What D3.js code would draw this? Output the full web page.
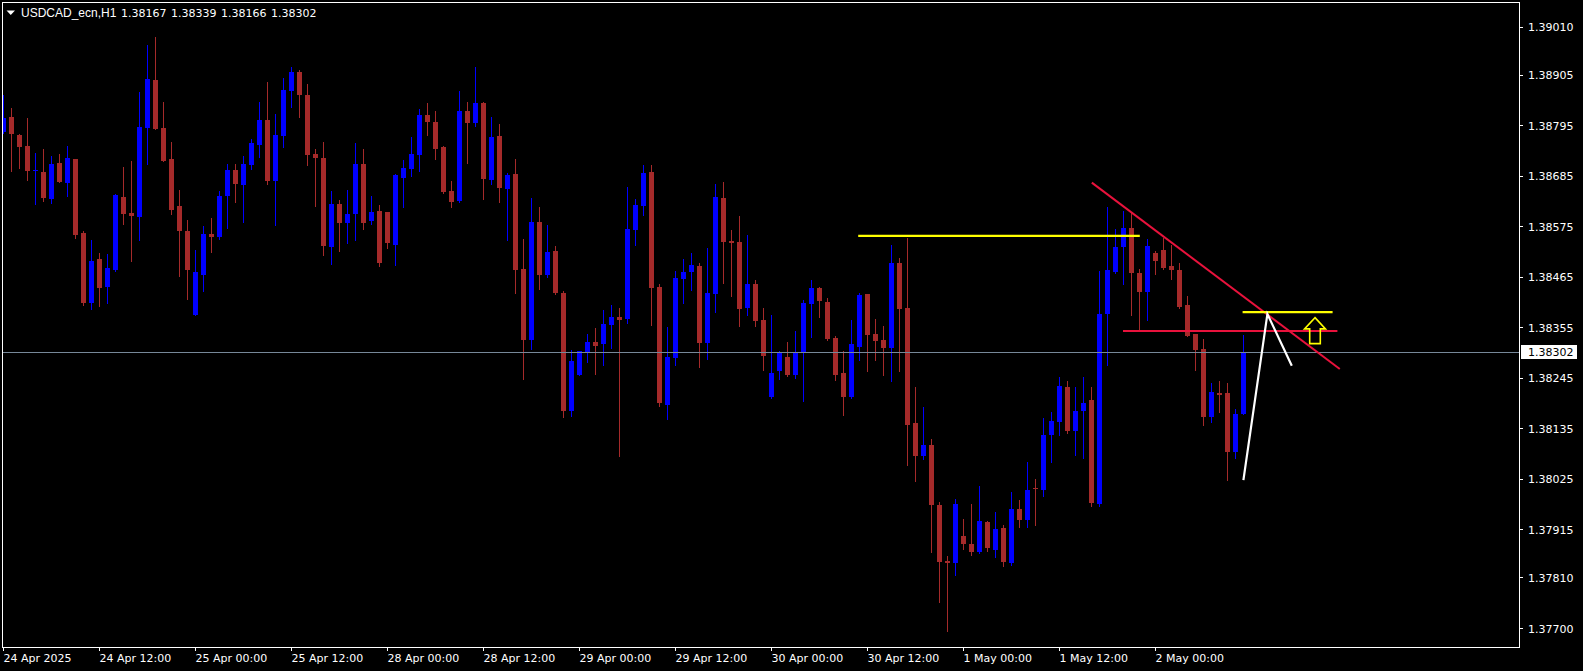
<!DOCTYPE html>
<html><head><meta charset="utf-8">
<script src="https://cdn.jsdelivr.net/npm/d3@7"></script>
<style>html,body{margin:0;padding:0;background:#000;overflow:hidden}</style>
</head><body><svg id="c" width="1583" height="671"></svg>
<script>
const symbol = "USDCAD_ecn,H1";
const headerValues = ["1.38167", "1.38339", "1.38166", "1.38302"];

const open = [1.38780,1.38813,1.38774,1.38750,1.38695,1.38693,1.38634,1.38713,1.38669,1.38721,
1.38560,1.38408,1.38504,1.38443,1.38480,1.38639,1.38604,1.38595,1.38789,1.38894,
1.38789,1.38721,1.38619,1.38565,1.38382,1.38469,1.38558,1.38552,1.38641,1.38698,
1.38665,1.38708,1.38752,1.38806,1.38674,1.38772,1.38870,1.38911,1.38861,1.38732,
1.38724,1.38530,1.38623,1.38582,1.38602,1.38711,1.38586,1.38608,1.38606,1.38534,
1.38680,1.38700,1.38730,1.38817,1.38802,1.38748,1.38652,1.38630,1.38826,1.38800,
1.38843,1.38676,1.38772,1.38656,1.38689,1.38482,1.38327,1.38584,1.38469,1.38521,
1.38430,1.38173,1.38251,1.38301,1.38323,1.38318,1.38360,1.38377,1.38373,1.38567,
1.38619,1.38693,1.38443,1.38186,1.38288,1.38460,1.38475,1.38488,1.38321,1.38427,
1.38637,1.38543,1.38541,1.38397,1.38449,1.38371,1.38203,1.38260,1.38290,1.38251,
1.38301,1.38406,1.38441,1.38410,1.38332,1.38255,1.38203,1.38312,1.38427,1.38340,
1.38327,1.38310,1.38495,1.38397,1.38146,1.38075,1.38099,1.37968,1.37846,1.37842,
1.37901,1.37883,1.37866,1.37931,1.37870,1.37918,1.37842,1.37959,1.37935,1.38005,
1.38001,1.38120,1.38149,1.38225,1.38129,1.38173,1.38197,1.37970,1.38384,1.38475,
1.38530,1.38571,1.38473,1.38432,1.38517,1.38523,1.38488,1.38480,1.38404,1.38340,
1.38308,1.38160,1.38212,1.38212,1.38084,1.38167];
const high = [1.38861,1.38832,1.38776,1.38811,1.38735,1.38743,1.38728,1.38732,1.38750,1.38722,
1.38565,1.38545,1.38517,1.38515,1.38645,1.38704,1.38717,1.38867,1.38970,1.38987,
1.38846,1.38758,1.38654,1.38589,1.38523,1.38576,1.38593,1.38652,1.38711,1.38711,
1.38728,1.38765,1.38846,1.38889,1.38819,1.38898,1.38922,1.38915,1.38885,1.38743,
1.38758,1.38652,1.38632,1.38654,1.38756,1.38743,1.38641,1.38621,1.38607,1.38688,
1.38719,1.38769,1.38830,1.38843,1.38826,1.38750,1.38674,1.38870,1.38846,1.38922,
1.38846,1.38813,1.38798,1.38691,1.38721,1.38547,1.38637,1.38617,1.38578,1.38532,
1.38434,1.38306,1.38304,1.38340,1.38353,1.38393,1.38404,1.38397,1.38660,1.38634,
1.38708,1.38708,1.38449,1.38356,1.38478,1.38504,1.38517,1.38495,1.38528,1.38667,
1.38671,1.38567,1.38597,1.38556,1.38458,1.38397,1.38382,1.38303,1.38323,1.38347,
1.38414,1.38458,1.38443,1.38419,1.38336,1.38303,1.38371,1.38430,1.38428,1.38373,
1.38358,1.38534,1.38506,1.38549,1.38225,1.38181,1.38112,1.37975,1.37857,1.37981,
1.37937,1.37970,1.38009,1.37933,1.37953,1.37924,1.37996,1.37979,1.38062,1.38025,
1.38157,1.38171,1.38247,1.38238,1.38225,1.38247,1.38225,1.38477,1.38617,1.38569,
1.38608,1.38604,1.38482,1.38547,1.38521,1.38549,1.38534,1.38495,1.38423,1.38341,
1.38329,1.38234,1.38238,1.38234,1.38177,1.38339];
const low = [1.38778,1.38695,1.38702,1.38676,1.38623,1.38630,1.38626,1.38671,1.38641,1.38549,
1.38404,1.38395,1.38401,1.38408,1.38478,1.38580,1.38499,1.38545,1.38711,1.38786,
1.38716,1.38602,1.38467,1.38417,1.38381,1.38434,1.38519,1.38547,1.38571,1.38628,
1.38584,1.38700,1.38726,1.38667,1.38578,1.38748,1.38835,1.38813,1.38708,1.38619,
1.38512,1.38493,1.38521,1.38539,1.38545,1.38569,1.38580,1.38488,1.38528,1.38491,
1.38617,1.38684,1.38695,1.38774,1.38721,1.38647,1.38617,1.38627,1.38713,1.38793,
1.38634,1.38667,1.38628,1.38545,1.38430,1.38242,1.38308,1.38438,1.38464,1.38427,
1.38160,1.38162,1.38250,1.38279,1.38253,1.38273,1.38310,1.38075,1.38364,1.38534,
1.38600,1.38360,1.38184,1.38155,1.38273,1.38408,1.38436,1.38268,1.38286,1.38388,
1.38451,1.38423,1.38358,1.38382,1.38358,1.38262,1.38202,1.38242,1.38249,1.38245,
1.38194,1.38334,1.38377,1.38327,1.38240,1.38164,1.38202,1.38284,1.38260,1.38284,
1.38251,1.38238,1.38260,1.38055,1.38020,1.38068,1.37866,1.37757,1.37694,1.37815,
1.37872,1.37859,1.37864,1.37868,1.37855,1.37835,1.37837,1.37920,1.37920,1.37924,
1.37988,1.38062,1.38120,1.38125,1.38077,1.38070,1.37966,1.37966,1.38273,1.38474,
1.38449,1.38382,1.38349,1.38371,1.38471,1.38482,1.38460,1.38398,1.38335,1.38262,
1.38142,1.38149,1.38171,1.38022,1.38070,1.38166];
const close = [1.38811,1.38776,1.38748,1.38695,1.38697,1.38637,1.38711,1.38672,1.38724,1.38556,
1.38408,1.38499,1.38441,1.38484,1.38643,1.38602,1.38597,1.38791,1.38896,1.38787,
1.38717,1.38610,1.38565,1.38480,1.38475,1.38558,1.38552,1.38641,1.38698,1.38667,
1.38711,1.38756,1.38806,1.38674,1.38774,1.38872,1.38911,1.38861,1.38730,1.38724,
1.38532,1.38623,1.38582,1.38602,1.38711,1.38582,1.38606,1.38495,1.38539,1.38687,
1.38702,1.38732,1.38817,1.38802,1.38743,1.38650,1.38628,1.38826,1.38800,1.38843,
1.38678,1.38769,1.38658,1.38687,1.38480,1.38327,1.38584,1.38469,1.38519,1.38430,
1.38173,1.38282,1.38303,1.38323,1.38314,1.38362,1.38377,1.38371,1.38569,1.38621,
1.38691,1.38441,1.38190,1.38290,1.38462,1.38475,1.38491,1.38321,1.38430,1.38639,
1.38541,1.38539,1.38395,1.38449,1.38369,1.38292,1.38255,1.38299,1.38251,1.38301,
1.38408,1.38441,1.38412,1.38329,1.38251,1.38203,1.38318,1.38425,1.38338,1.38325,
1.38310,1.38495,1.38395,1.38142,1.38075,1.38099,1.37968,1.37844,1.37842,1.37970,
1.37883,1.37866,1.37933,1.37874,1.37916,1.37844,1.37959,1.37935,1.38001,1.38003,
1.38120,1.38151,1.38227,1.38129,1.38173,1.38190,1.37972,1.38384,1.38480,1.38530,
1.38571,1.38473,1.38432,1.38532,1.38499,1.38484,1.38480,1.38399,1.38336,1.38306,
1.38160,1.38214,1.38208,1.38084,1.38166,1.38302];

const priceTicks = [1.39010,1.38905,1.38795,1.38685,1.38575,1.38465,1.38355,1.38245,1.38135,1.38025,1.37915,1.37810,1.37700];
const timeTickBars = [0,12,24,36,48,60,72,84,96,108,120,132,144];
const timeTickLabels = ["24 Apr 2025","24 Apr 12:00","25 Apr 00:00","25 Apr 12:00","28 Apr 00:00","28 Apr 12:00","29 Apr 00:00","29 Apr 12:00","30 Apr 00:00","30 Apr 12:00","1 May 00:00","1 May 12:00","2 May 00:00"];
const lastPrice = 1.38302;

// drawn objects, in (bar index, price) coordinates
const yellowLevel1 = [[106.9, 1.38554], [142.1, 1.38554]];
const redTrend = [[136.1, 1.38670], [167.1, 1.38264]];
const redLevel = [[140.0, 1.38347], [166.8, 1.38347]];
const yellowLevel2 = [[154.95, 1.38388], [166.2, 1.38388]];
const whitePath = [[155.05, 1.38022], [158.05, 1.38384], [161.1, 1.38271]];
const arrowTip = [164.0, 1.38376];

const svg = d3.select("#c");
const FONT = "Liberation Sans, Arial, sans-serif";
const NFONT = "DejaVu Sans, Verdana, sans-serif";
const L = 2, T = 2, R = 1519, B = 647;

const x = d3.scaleLinear().domain([0, 1]).range([3, 11]);
const y = d3.scaleLinear().domain([1.37700, 1.39010]).range([628, 26.5]);

svg.append("rect").attr("width", 1583).attr("height", 671).attr("fill", "#000");

svg.append("defs").append("clipPath").attr("id", "pc")
  .append("rect").attr("x", L + 1).attr("y", T + 1).attr("width", R - L - 1).attr("height", B - T - 1);

const plot = svg.append("g").attr("clip-path", "url(#pc)");

const bars = d3.range(open.length).map(i => ({i, o: open[i], h: high[i], l: low[i], c: close[i]}));
const col = d => d.c >= d.o ? "#0000ff" : "#a52a2a";

const g = plot.append("g").attr("shape-rendering", "crispEdges");
g.selectAll("rect.w").data(bars).join("rect").attr("class", "w")
  .attr("x", d => Math.round(x(d.i)))
  .attr("y", d => Math.round(y(d.h)))
  .attr("width", 1)
  .attr("height", d => Math.max(1, Math.round(y(d.l)) - Math.round(y(d.h)) + 1))
  .attr("fill", col);
g.selectAll("rect.b").data(bars).join("rect").attr("class", "b")
  .attr("x", d => Math.round(x(d.i)) - 2)
  .attr("y", d => Math.round(y(Math.max(d.o, d.c))))
  .attr("width", 5)
  .attr("height", d => Math.max(1, Math.round(y(Math.min(d.o, d.c))) - Math.round(y(Math.max(d.o, d.c)))))
  .attr("fill", col);

// bid line
plot.append("line").attr("x1", L).attr("x2", R)
  .attr("y1", Math.round(y(lastPrice)) + 0.5).attr("y2", Math.round(y(lastPrice)) + 0.5)
  .attr("stroke", "#778899").attr("stroke-width", 1);

// objects
const line = d3.line().x(d => x(d[0])).y(d => y(d[1]));
plot.append("path").attr("d", line(yellowLevel1)).attr("stroke", "#ffff00").attr("stroke-width", 2.2).attr("fill", "none");
plot.append("path").attr("d", line(redTrend)).attr("stroke", "#e8123c").attr("stroke-width", 2).attr("fill", "none");
plot.append("path").attr("d", line(redLevel)).attr("stroke", "#e8123c").attr("stroke-width", 2).attr("fill", "none");
plot.append("path").attr("d", line(yellowLevel2)).attr("stroke", "#ffff00").attr("stroke-width", 2.2).attr("fill", "none");
plot.append("path").attr("d", line(whitePath)).attr("stroke", "#ffffff").attr("stroke-width", 2.2).attr("fill", "none").attr("stroke-linejoin", "miter");

// hollow up arrow
const ax = x(arrowTip[0]), ay = y(arrowTip[1]);
const arrowShape = [[0,0],[10.5,11.3],[5.3,11.3],[5.3,26],[-5.3,26],[-5.3,11.3],[-10.5,11.3]];
plot.append("path")
  .attr("d", "M" + arrowShape.map(p => (ax + p[0]) + "," + (ay + p[1])).join("L") + "Z")
  .attr("fill", "none").attr("stroke", "#ffff00").attr("stroke-width", 1.6).attr("stroke-linejoin", "miter");

// frame
svg.append("rect").attr("x", L + 0.5).attr("y", T + 0.5).attr("width", R - L).attr("height", B - T)
  .attr("fill", "none").attr("stroke", "#ffffff").attr("stroke-width", 1).attr("shape-rendering", "crispEdges");

// price axis
const pa = svg.append("g");
pa.selectAll("line").data(priceTicks).join("line")
  .attr("x1", R).attr("x2", R + 4)
  .attr("y1", d => Math.round(y(d)) + 0.5).attr("y2", d => Math.round(y(d)) + 0.5)
  .attr("stroke", "#fff").attr("shape-rendering", "crispEdges");
pa.selectAll("text").data(priceTicks).join("text")
  .attr("x", 1528).attr("y", d => y(d) + 4.5)
  .attr("fill", "#fff").attr("font-family", NFONT).attr("font-size", 11)
  .text(d => d.toFixed(5));

// last price label
const ly = y(lastPrice);
svg.append("rect").attr("x", 1521).attr("y", Math.round(ly) - 7).attr("width", 56).attr("height", 14).attr("fill", "#fff");
svg.append("text").attr("x", 1528).attr("y", ly + 4.5).attr("fill", "#000")
  .attr("font-family", NFONT).attr("font-size", 11).text(lastPrice.toFixed(5));

// time axis
const ta = svg.append("g");
ta.selectAll("line").data(timeTickBars).join("line")
  .attr("x1", d => Math.round(x(d)) + 0.5).attr("x2", d => Math.round(x(d)) + 0.5)
  .attr("y1", B).attr("y2", B + 4)
  .attr("stroke", "#fff").attr("shape-rendering", "crispEdges");
ta.selectAll("text").data(timeTickBars).join("text")
  .attr("x", d => Math.round(x(d)) + 0.5).attr("y", 662)
  .attr("fill", "#fff").attr("font-family", NFONT).attr("font-size", 11)
  .text((d, i) => timeTickLabels[i]);

// header
svg.append("path").attr("d", "M6.5,10.5L15,10.5L10.75,15Z").attr("fill", "#fff");
svg.append("text").attr("x", 21).attr("y", 17).attr("fill", "#fff")
  .attr("font-family", FONT).attr("font-size", 12).text(symbol);
svg.selectAll("text.hv").data(headerValues).join("text").attr("class", "hv")
  .attr("x", (d, i) => 121 + 50 * i).attr("y", 17).attr("fill", "#fff")
  .attr("font-family", NFONT).attr("font-size", 11).text(d => d);
</script></body></html>
